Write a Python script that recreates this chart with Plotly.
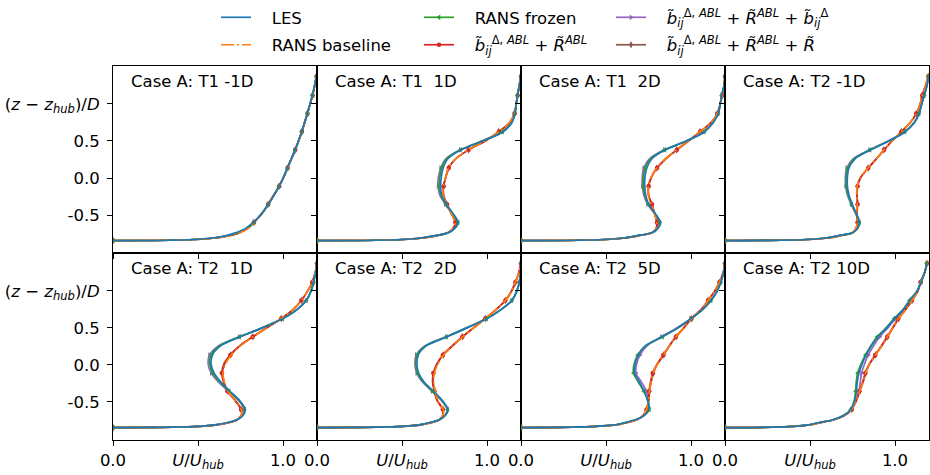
import plotly.graph_objects as go

# ---------------- data ----------------
Z = [-0.845, -0.84, -0.83, -0.81, -0.78, -0.74, -0.68, -0.6, -0.48, -0.355, -0.23, -0.11,
     0.01, 0.135, 0.26, 0.38, 0.5, 0.625, 0.75, 0.87, 1.0, 1.115, 1.25, 1.37]
MARK_IDX = [0, 7, 9, 11, 13, 15, 17, 19, 21, 23]

X_TICKS = [0.0, 0.5, 1.0]
X_TICK_TEXT = ["0.0", "<i>U</i>/<i>U</i><sub><i>hub</i></sub>", "1.0"]
Y_TICKS = [-0.5, 0.0, 0.5, 1.0]
Y_TICK_TEXT = ["-0.5", "0.0", "0.5", "(<i>z</i> − <i>z</i><sub><i>hub</i></sub>)/<i>D</i>"]

TITLES = ["Case A: T1 -1D", "Case A: T1 \u00a01D", "Case A: T1 \u00a02D", "Case A: T2 -1D",
          "Case A: T2 \u00a01D", "Case A: T2 \u00a02D", "Case A: T2 \u00a05D", "Case A: T2 10D"]

# T1 -1D
LES_T1_M1 = [0, 0.33, 0.47, 0.58, 0.66, 0.72, 0.78, 0.825, 0.875, 0.914, 0.948, 0.978, 1.003, 1.026, 1.049, 1.071, 1.091, 1.11, 1.127, 1.143, 1.159, 1.173, 1.186, 1.196]
BASE_T1_M1 = [0, 0.33, 0.48, 0.60, 0.68, 0.745, 0.795, 0.83, 0.876, 0.912, 0.946, 0.977, 1.003, 1.027, 1.05, 1.072, 1.092, 1.111, 1.128, 1.144, 1.16, 1.174, 1.187, 1.197]
FROZ_T1_M1 = [0, 0.33, 0.475, 0.59, 0.67, 0.735, 0.79, 0.828, 0.875, 0.913, 0.947, 0.977, 1.003, 1.026, 1.049, 1.071, 1.091, 1.11, 1.127, 1.143, 1.159, 1.173, 1.186, 1.196]
BR_T1_M1 = [0, 0.33, 0.478, 0.595, 0.675, 0.74, 0.792, 0.829, 0.876, 0.913, 0.946, 0.977, 1.003, 1.027, 1.05, 1.072, 1.092, 1.111, 1.128, 1.144, 1.16, 1.174, 1.187, 1.197]
BRB_T1_M1 = [0, 0.33, 0.478, 0.595, 0.675, 0.74, 0.792, 0.829, 0.876, 0.913, 0.947, 0.978, 1.003, 1.026, 1.049, 1.071, 1.091, 1.11, 1.127, 1.143, 1.159, 1.173, 1.186, 1.196]
BRR_T1_M1 = [0, 0.33, 0.478, 0.596, 0.676, 0.741, 0.793, 0.829, 0.876, 0.912, 0.946, 0.977, 1.003, 1.027, 1.05, 1.072, 1.092, 1.111, 1.128, 1.144, 1.16, 1.174, 1.187, 1.197]

# T1 1D
LES_T1_P1 = [0, 0.35, 0.5, 0.61, 0.69, 0.77, 0.81, 0.83, 0.80, 0.761, 0.733, 0.727, 0.731, 0.742, 0.77, 0.848, 0.975, 1.095, 1.147, 1.165, 1.172, 1.18, 1.19, 1.2]
FROZ_T1_P1 = [0, 0.35, 0.5, 0.61, 0.69, 0.77, 0.81, 0.83, 0.798, 0.758, 0.728, 0.72, 0.722, 0.733, 0.762, 0.845, 0.972, 1.092, 1.145, 1.164, 1.172, 1.18, 1.19, 1.2]
BRB_T1_P1 = [0, 0.35, 0.5, 0.61, 0.69, 0.77, 0.808, 0.826, 0.795, 0.755, 0.722, 0.712, 0.714, 0.728, 0.758, 0.843, 0.97, 1.09, 1.145, 1.164, 1.172, 1.18, 1.19, 1.2]
BASE_T1_P1 = [0, 0.35, 0.5, 0.62, 0.70, 0.77, 0.80, 0.812, 0.79, 0.762, 0.743, 0.743, 0.757, 0.773, 0.815, 0.89, 0.988, 1.068, 1.133, 1.161, 1.172, 1.18, 1.19, 1.2]
BR_T1_P1 = [0, 0.35, 0.5, 0.62, 0.70, 0.77, 0.80, 0.814, 0.792, 0.765, 0.745, 0.745, 0.758, 0.775, 0.817, 0.892, 0.99, 1.07, 1.134, 1.162, 1.172, 1.18, 1.19, 1.2]
BRR_T1_P1 = [0, 0.35, 0.5, 0.62, 0.70, 0.77, 0.80, 0.813, 0.79, 0.763, 0.744, 0.744, 0.757, 0.774, 0.816, 0.891, 0.989, 1.069, 1.133, 1.161, 1.172, 1.18, 1.19, 1.2]

# T1 2D
LES_T1_P2 = [0, 0.34, 0.49, 0.6, 0.68, 0.77, 0.805, 0.82, 0.79, 0.752, 0.733, 0.728, 0.729, 0.74, 0.77, 0.85, 0.975, 1.08, 1.131, 1.16, 1.172, 1.18, 1.195, 1.2]
FROZ_T1_P2 = [0, 0.34, 0.49, 0.6, 0.68, 0.77, 0.805, 0.818, 0.788, 0.749, 0.727, 0.72, 0.72, 0.73, 0.762, 0.846, 0.972, 1.078, 1.13, 1.16, 1.172, 1.18, 1.195, 1.2]
BRB_T1_P2 = [0, 0.34, 0.49, 0.6, 0.68, 0.77, 0.803, 0.816, 0.785, 0.745, 0.722, 0.714, 0.713, 0.722, 0.755, 0.843, 0.97, 1.076, 1.13, 1.16, 1.172, 1.18, 1.195, 1.2]
BASE_T1_P2 = [0, 0.34, 0.49, 0.61, 0.69, 0.77, 0.795, 0.798, 0.785, 0.768, 0.749, 0.749, 0.765, 0.798, 0.85, 0.916, 0.984, 1.053, 1.118, 1.155, 1.172, 1.184, 1.195, 1.2]
BR_T1_P2 = [0, 0.34, 0.49, 0.61, 0.69, 0.77, 0.796, 0.8, 0.787, 0.77, 0.751, 0.751, 0.767, 0.8, 0.852, 0.917, 0.985, 1.054, 1.118, 1.155, 1.172, 1.184, 1.195, 1.2]
BRR_T1_P2 = [0, 0.34, 0.49, 0.61, 0.69, 0.77, 0.795, 0.799, 0.786, 0.769, 0.75, 0.75, 0.766, 0.799, 0.851, 0.916, 0.984, 1.053, 1.118, 1.155, 1.172, 1.184, 1.195, 1.2]

# T2 -1D
LES_T2_M1 = [0, 0.33, 0.48, 0.59, 0.665, 0.75, 0.78, 0.792, 0.773, 0.749, 0.729, 0.72, 0.72, 0.729, 0.765, 0.857, 0.965, 1.06, 1.115, 1.142, 1.157, 1.172, 1.188, 1.197]
FROZ_T2_M1 = [0, 0.33, 0.48, 0.59, 0.665, 0.75, 0.78, 0.79, 0.77, 0.745, 0.724, 0.714, 0.713, 0.722, 0.76, 0.853, 0.962, 1.058, 1.113, 1.141, 1.157, 1.172, 1.188, 1.197]
BRB_T2_M1 = [0, 0.33, 0.48, 0.59, 0.665, 0.75, 0.779, 0.789, 0.768, 0.742, 0.72, 0.71, 0.708, 0.716, 0.755, 0.85, 0.96, 1.057, 1.113, 1.141, 1.157, 1.172, 1.188, 1.197]
BASE_T2_M1 = [0, 0.33, 0.48, 0.6, 0.675, 0.75, 0.77, 0.778, 0.773, 0.778, 0.775, 0.778, 0.797, 0.841, 0.89, 0.935, 0.982, 1.037, 1.09, 1.125, 1.148, 1.16, 1.18, 1.196]
BR_T2_M1 = [0, 0.33, 0.48, 0.6, 0.675, 0.75, 0.771, 0.78, 0.776, 0.78, 0.777, 0.78, 0.799, 0.843, 0.891, 0.936, 0.983, 1.038, 1.09, 1.125, 1.148, 1.16, 1.18, 1.196]
BRR_T2_M1 = [0, 0.33, 0.48, 0.6, 0.675, 0.75, 0.77, 0.779, 0.774, 0.779, 0.776, 0.779, 0.798, 0.842, 0.89, 0.935, 0.982, 1.037, 1.09, 1.125, 1.148, 1.16, 1.18, 1.196]

# T2 1D
LES_T2_P1 = [0, 0.35, 0.5, 0.6, 0.67, 0.73, 0.765, 0.778, 0.745, 0.688, 0.635, 0.595, 0.577, 0.585, 0.635, 0.748, 0.88, 1.0, 1.085, 1.137, 1.165, 1.18, 1.192, 1.2]
FROZ_T2_P1 = [0, 0.35, 0.5, 0.6, 0.67, 0.73, 0.765, 0.775, 0.742, 0.683, 0.628, 0.587, 0.569, 0.577, 0.628, 0.745, 0.878, 0.998, 1.084, 1.137, 1.165, 1.18, 1.192, 1.2]
BRB_T2_P1 = [0, 0.35, 0.5, 0.6, 0.67, 0.73, 0.763, 0.772, 0.738, 0.678, 0.62, 0.578, 0.56, 0.568, 0.622, 0.742, 0.876, 0.997, 1.083, 1.136, 1.165, 1.18, 1.192, 1.2]
BASE_T2_P1 = [0, 0.35, 0.5, 0.61, 0.68, 0.73, 0.755, 0.755, 0.72, 0.676, 0.655, 0.647, 0.66, 0.696, 0.75, 0.824, 0.905, 0.99, 1.06, 1.108, 1.145, 1.172, 1.19, 1.2]
BR_T2_P1 = [0, 0.35, 0.5, 0.61, 0.68, 0.73, 0.755, 0.753, 0.718, 0.673, 0.65, 0.64, 0.652, 0.69, 0.746, 0.822, 0.904, 0.99, 1.06, 1.108, 1.145, 1.172, 1.19, 1.2]
BRR_T2_P1 = [0, 0.35, 0.5, 0.61, 0.68, 0.73, 0.755, 0.754, 0.719, 0.675, 0.653, 0.644, 0.656, 0.693, 0.748, 0.823, 0.905, 0.99, 1.06, 1.108, 1.145, 1.172, 1.19, 1.2]

# T2 2D
LES_T2_P2 = [0, 0.35, 0.5, 0.6, 0.66, 0.72, 0.755, 0.77, 0.738, 0.685, 0.63, 0.598, 0.588, 0.596, 0.645, 0.765, 0.882, 1.0, 1.085, 1.147, 1.176, 1.19, 1.198, 1.2]
FROZ_T2_P2 = [0, 0.35, 0.5, 0.6, 0.66, 0.72, 0.755, 0.768, 0.735, 0.681, 0.625, 0.592, 0.581, 0.589, 0.64, 0.762, 0.88, 0.998, 1.084, 1.146, 1.176, 1.19, 1.198, 1.2]
BRB_T2_P2 = [0, 0.35, 0.5, 0.6, 0.66, 0.72, 0.753, 0.766, 0.732, 0.677, 0.62, 0.587, 0.576, 0.584, 0.636, 0.76, 0.879, 0.997, 1.084, 1.146, 1.176, 1.19, 1.198, 1.2]
BASE_T2_P2 = [0, 0.35, 0.5, 0.61, 0.67, 0.72, 0.74, 0.742, 0.71, 0.696, 0.686, 0.69, 0.71, 0.745, 0.8, 0.857, 0.922, 0.99, 1.055, 1.108, 1.145, 1.167, 1.188, 1.2]
BR_T2_P2 = [0, 0.35, 0.5, 0.61, 0.67, 0.72, 0.74, 0.74, 0.706, 0.69, 0.68, 0.684, 0.704, 0.74, 0.797, 0.855, 0.921, 0.99, 1.055, 1.108, 1.145, 1.167, 1.188, 1.2]
BRR_T2_P2 = [0, 0.35, 0.5, 0.61, 0.67, 0.72, 0.74, 0.741, 0.708, 0.693, 0.683, 0.687, 0.707, 0.743, 0.799, 0.856, 0.922, 0.99, 1.055, 1.108, 1.145, 1.167, 1.188, 1.2]

# T2 5D
LES_T2_P5 = [0, 0.3, 0.44, 0.55, 0.61, 0.675, 0.725, 0.752, 0.745, 0.725, 0.696, 0.668, 0.671, 0.69, 0.733, 0.83, 0.922, 1.0, 1.069, 1.118, 1.155, 1.175, 1.192, 1.2]
FROZ_T2_P5 = [0, 0.3, 0.44, 0.55, 0.61, 0.675, 0.725, 0.755, 0.745, 0.722, 0.69, 0.662, 0.665, 0.687, 0.733, 0.833, 0.925, 1.002, 1.07, 1.118, 1.155, 1.175, 1.192, 1.2]
BRB_T2_P5 = [0, 0.3, 0.44, 0.55, 0.61, 0.675, 0.725, 0.75, 0.748, 0.738, 0.708, 0.676, 0.68, 0.70, 0.743, 0.826, 0.916, 0.998, 1.066, 1.115, 1.153, 1.175, 1.192, 1.2]
BASE_T2_P5 = [0, 0.3, 0.44, 0.56, 0.62, 0.68, 0.72, 0.738, 0.751, 0.755, 0.765, 0.778, 0.802, 0.839, 0.873, 0.912, 0.958, 1.003, 1.06, 1.1, 1.14, 1.167, 1.19, 1.2]
BR_T2_P5 = [0, 0.3, 0.44, 0.56, 0.62, 0.68, 0.72, 0.738, 0.75, 0.753, 0.762, 0.775, 0.8, 0.837, 0.872, 0.911, 0.957, 1.003, 1.06, 1.1, 1.14, 1.167, 1.19, 1.2]
BRR_T2_P5 = [0, 0.3, 0.44, 0.56, 0.62, 0.68, 0.72, 0.739, 0.752, 0.756, 0.766, 0.779, 0.803, 0.84, 0.874, 0.913, 0.958, 1.004, 1.061, 1.1, 1.14, 1.167, 1.19, 1.2]

# T2 10D
LES_T2_P10 = [0, 0.28, 0.4, 0.49, 0.55, 0.635, 0.70, 0.74, 0.763, 0.773, 0.778, 0.788, 0.806, 0.831, 0.863, 0.9, 0.951, 0.998, 1.05, 1.086, 1.13, 1.153, 1.175, 1.188]
FROZ_T2_P10 = [0, 0.28, 0.4, 0.49, 0.55, 0.635, 0.70, 0.74, 0.76, 0.768, 0.772, 0.78, 0.8, 0.826, 0.858, 0.895, 0.947, 0.995, 1.048, 1.085, 1.13, 1.153, 1.175, 1.188]
BRB_T2_P10 = [0, 0.28, 0.4, 0.49, 0.55, 0.635, 0.70, 0.742, 0.77, 0.788, 0.796, 0.803, 0.82, 0.843, 0.875, 0.91, 0.958, 1.003, 1.053, 1.09, 1.132, 1.153, 1.175, 1.188]
BASE_T2_P10 = [0, 0.28, 0.4, 0.5, 0.56, 0.64, 0.705, 0.745, 0.773, 0.792, 0.812, 0.827, 0.85, 0.885, 0.922, 0.955, 0.987, 1.02, 1.063, 1.1, 1.135, 1.15, 1.175, 1.188]
BR_T2_P10 = [0, 0.28, 0.4, 0.5, 0.56, 0.64, 0.705, 0.745, 0.772, 0.79, 0.81, 0.825, 0.848, 0.883, 0.92, 0.954, 0.986, 1.019, 1.062, 1.1, 1.135, 1.15, 1.175, 1.188]
BRR_T2_P10 = [0, 0.28, 0.4, 0.5, 0.56, 0.64, 0.705, 0.746, 0.774, 0.793, 0.813, 0.828, 0.851, 0.886, 0.923, 0.956, 0.988, 1.021, 1.064, 1.1, 1.135, 1.15, 1.175, 1.188]

PANELS = [
    dict(les=LES_T1_M1, base=BASE_T1_M1, froz=FROZ_T1_M1, br=BR_T1_M1, brb=BRB_T1_M1, brr=BRR_T1_M1),
    dict(les=LES_T1_P1, base=BASE_T1_P1, froz=FROZ_T1_P1, br=BR_T1_P1, brb=BRB_T1_P1, brr=BRR_T1_P1),
    dict(les=LES_T1_P2, base=BASE_T1_P2, froz=FROZ_T1_P2, br=BR_T1_P2, brb=BRB_T1_P2, brr=BRR_T1_P2),
    dict(les=LES_T2_M1, base=BASE_T2_M1, froz=FROZ_T2_M1, br=BR_T2_M1, brb=BRB_T2_M1, brr=BRR_T2_M1),
    dict(les=LES_T2_P1, base=BASE_T2_P1, froz=FROZ_T2_P1, br=BR_T2_P1, brb=BRB_T2_P1, brr=BRR_T2_P1),
    dict(les=LES_T2_P2, base=BASE_T2_P2, froz=FROZ_T2_P2, br=BR_T2_P2, brb=BRB_T2_P2, brr=BRR_T2_P2),
    dict(les=LES_T2_P5, base=BASE_T2_P5, froz=FROZ_T2_P5, br=BR_T2_P5, brb=BRB_T2_P5, brr=BRR_T2_P5),
    dict(les=LES_T2_P10, base=BASE_T2_P10, froz=FROZ_T2_P10, br=BR_T2_P10, brb=BRB_T2_P10, brr=BRR_T2_P10),
]

BT = "<i>b̃</i><sub><i>ij</i></sub><sup>Δ, <i>ABL</i></sup> + <i>R̃</i><sup><i>ABL</i></sup>"
# drawing order: first drawn is at the bottom
SERIES = [
    dict(key="brr", name=BT + " + <i>R̃</i>", color="#8c564b", dash="solid", symbol="diamond-tall", size=5.5, legend="legend3", rank=2),
    dict(key="brb", name=BT + " + <i>b̃</i><sub><i>ij</i></sub><sup>Δ</sup>", color="#9467bd", dash="solid", symbol="triangle-right", size=5, legend="legend3", rank=1),
    dict(key="br", name=BT, color="#d62728", dash="solid", symbol="circle", size=4.5, legend="legend2", rank=2),
    dict(key="froz", name="RANS frozen", color="#2ca02c", dash="solid", symbol="triangle-left", size=5, legend="legend2", rank=1),
    dict(key="base", name="RANS baseline", color="#ff7f0e", dash="13px,3px,2px,3px", symbol=None, size=0, legend="legend", rank=2),
    dict(key="les", name="LES", color="#1f77b4", dash="solid", symbol=None, size=0, legend="legend", rank=1),
]

# ---------------- layout geometry (px) ----------------
W, H = 930, 475
COL_L = [113, 317, 521, 725]
COL_W = 204
ROW_T = [60.7, 250.0]
ROW_H = 189.3
FONT = "DejaVu Sans"
FS = 16.5

fig = go.Figure()
layout = dict(
    width=W, height=H, margin=dict(l=0, r=0, t=0, b=0),
    paper_bgcolor="white", plot_bgcolor="white",
    font=dict(family=FONT, size=FS, color="black"),
    showlegend=True,
)
annotations = []

for p, panel in enumerate(PANELS):
    r, c = divmod(p, 4)
    k = "" if p == 0 else str(p + 1)
    xd = [COL_L[c] / W, (COL_L[c] + COL_W) / W]
    yd = [1 - (ROW_T[r] + ROW_H) / H, 1 - ROW_T[r] / H]
    common = dict(showline=True, linecolor="black", linewidth=1.1, mirror=True,
                  ticks="outside", ticklen=5, tickwidth=1.1, tickcolor="black",
                  showgrid=False, zeroline=False, automargin=False,
                  tickfont=dict(family=FONT, size=FS, color="black"))
    layout["xaxis" + k] = dict(common, domain=xd, range=[0, 1.2], anchor="y" + k,
                                tickmode="array", tickvals=X_TICKS, ticktext=X_TICK_TEXT,
                                showticklabels=(r == 1))
    layout["yaxis" + k] = dict(common, domain=yd, range=[-1.01, 1.513], anchor="x" + k,
                                tickmode="array", tickvals=Y_TICKS, ticktext=Y_TICK_TEXT,
                                showticklabels=(c == 0), ticklabelstandoff=4)
    for s in SERIES:
        vals = panel[s["key"]]
        has_m = s["symbol"] is not None
        tr = dict(
            x=vals, y=Z, xaxis="x" + k, yaxis="y" + k,
            mode="lines+markers" if has_m else "lines",
            line=dict(color=s["color"], width=1.7, dash=s["dash"], shape="spline", smoothing=0.8),
            name="\u00a0\u00a0\u00a0" + s["name"], legend=s["legend"], legendrank=s["rank"],
            legendgroup=s["key"], showlegend=(p == 0), hoverinfo="skip",
        )
        if has_m:
            tr["marker"] = dict(symbol=s["symbol"], size=s["size"],
                                color=[s["color"] if i in MARK_IDX else "rgba(0,0,0,0)" for i in range(len(Z))],
                                line=dict(width=0))
        fig.add_trace(go.Scatter(**tr))
    annotations.append(dict(text=TITLES[p], xref=f"x{k} domain", yref=f"y{k} domain",
                            x=16 / COL_W, y=1 - 16 / ROW_H, xanchor="left", yanchor="middle",
                            showarrow=False, font=dict(family=FONT, size=FS, color="black")))

leg_common = dict(xanchor="left", yanchor="top", orientation="v", bgcolor="rgba(0,0,0,0)",
                  borderwidth=0, tracegroupgap=3, itemclick=False, itemdoubleclick=False,
                  font=dict(family=FONT, size=FS, color="black"))
layout["legend"] = dict(leg_common, x=216 / W, y=1 + 6 / H)
layout["legend2"] = dict(leg_common, x=419 / W, y=1 + 6 / H)
layout["legend3"] = dict(leg_common, x=611 / W, y=1 + 6 / H)
layout["annotations"] = annotations
fig.update_layout(**layout)

fig.write_html("out.html", config={"displayModeBar": False},
               post_script="document.body.style.margin='0px';")
